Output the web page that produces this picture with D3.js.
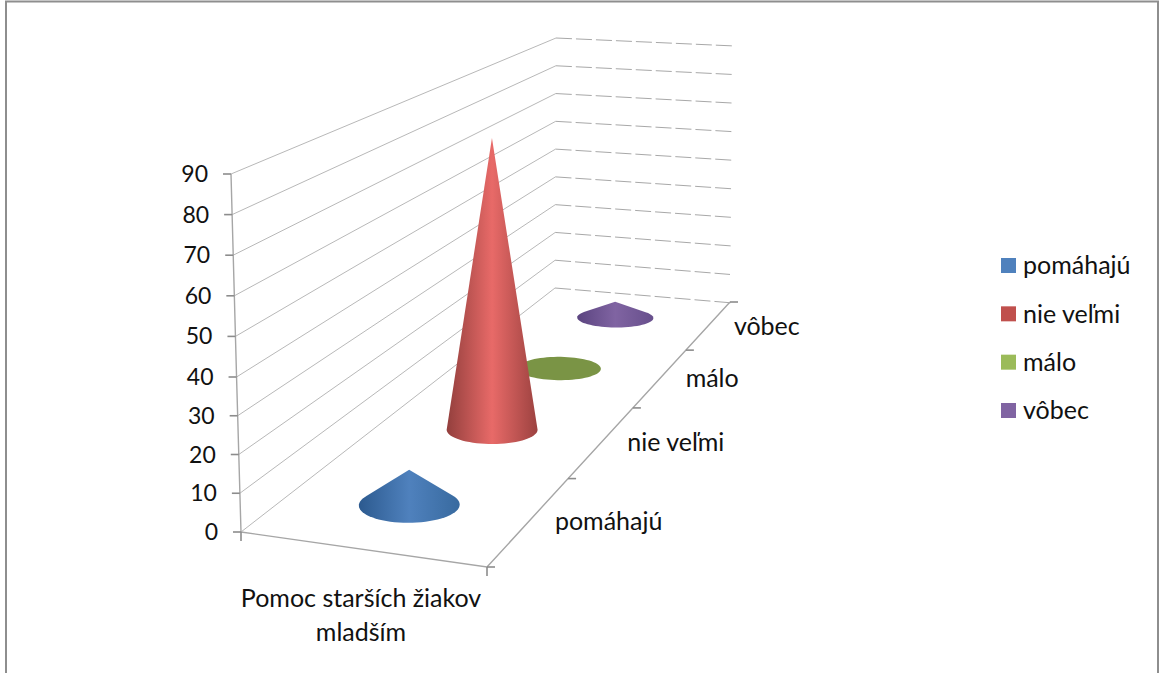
<!DOCTYPE html>
<html>
<head>
<meta charset="utf-8">
<style>
body { margin: 0; background: #fff; }
text { font-family: Lato, "Open Sans", sans-serif; font-size: 25px; fill: #111; }
text.num { font-size: 23px; }
.grid { fill: none; stroke: #b8b8b8; stroke-width: 1; }
.back { stroke: #a8a8a8; stroke-dasharray: 16 4; }
.axis { fill: none; stroke: #a6a6a6; stroke-width: 1.4; }
.tick { fill: none; stroke: #8c8c8c; stroke-width: 1.6; }
</style>
</head>
<body>
<svg width="1162" height="673"></svg>
<script src="https://d3js.org/d3.v7.min.js"></script>
<script>
var categories = ["pomáhajú", "nie veľmi", "málo", "vôbec"];
var values = [9, 84, 0, 5.5];
var valueTicks = d3.range(0, 100, 10);
var axisTitle = ["Pomoc starších žiakov", "mladším"];

var legendColors = ["#4f81bd", "#c0504d", "#9bbb59", "#8064a2"];
// edge, centre, edge of the cone shading
var shades = [
  ["#2c5a8f", "#4f81bd", "#386a9f"],
  ["#933f3d", "#e86a68", "#9c4240"],
  ["#7a9445", "#7a9445", "#7a9445"],
  ["#5b4480", "#8064a2", "#674f8c"]
];

var svg = d3.select("svg");

// floor corners on screen: front left, front right, back right, back left
var floor = [[241, 532], [487, 567], [730, 302], [553, 289]];

// unit square -> floor quad
var dx1 = floor[1][0] - floor[2][0], dx2 = floor[3][0] - floor[2][0],
    sx = floor[0][0] - floor[1][0] + floor[2][0] - floor[3][0],
    dy1 = floor[1][1] - floor[2][1], dy2 = floor[3][1] - floor[2][1],
    sy = floor[0][1] - floor[1][1] + floor[2][1] - floor[3][1],
    det = dx1 * dy2 - dx2 * dy1,
    pg = (sx * dy2 - dx2 * sy) / det,
    ph = (dx1 * sy - sx * dy1) / det;

function weight(u, v) { return 1 + pg * u + ph * v; }
function project(u, v) {
  var w = weight(u, v);
  return [
    ((floor[1][0] - floor[0][0] + pg * floor[1][0]) * u + (floor[3][0] - floor[0][0] + ph * floor[3][0]) * v + floor[0][0]) / w,
    ((floor[1][1] - floor[0][1] + pg * floor[1][1]) * u + (floor[3][1] - floor[0][1] + ph * floor[3][1]) * v + floor[0][1]) / w
  ];
}

// value axis along the three wall edges, the near edge has a bit of perspective
var yMax = d3.max(valueTicks);
var wallLeft = { x: d3.scaleLinear().domain([0, yMax]).range([241, 231]), y: d3.scaleLinear().domain([0, 40, yMax]).range([532, 377, 174]) };
var wallBack = { x: d3.scaleLinear().domain([0, yMax]).range([555, 556]), y: d3.scaleLinear().domain([0, yMax]).range([288, 38]) };
var wallRight = { x: d3.scaleLinear().domain([0, 10, yMax]).range([733, 730, 735]), y: d3.scaleLinear().domain([0, yMax]).range([303, 46]) };
var heightFront = (wallLeft.y(0) - wallLeft.y(yMax)) / yMax;

var depth = d3.scaleBand().domain(categories).range([0, 1]);

// frame (bottom edge is cut off in the picture)
svg.append("path").attr("d", "M6,673V1.5H1158V673")
  .attr("fill", "none").attr("stroke", "#8e8e8e").attr("stroke-width", 2);

// gridlines
var line = d3.line();
valueTicks.forEach(function(t) {
  svg.append("path").attr("class", "grid")
    .attr("d", line([[wallLeft.x(t), wallLeft.y(t)], [wallBack.x(t), wallBack.y(t)]]));
  svg.append("path").attr("class", "grid back")
    .attr("d", line([[wallBack.x(t), wallBack.y(t)], [wallRight.x(t), wallRight.y(t)]]));
});

// value axis
svg.append("path").attr("class", "axis")
  .attr("d", line(valueTicks.map(function(t) { return [wallLeft.x(t), wallLeft.y(t)]; })));
svg.selectAll(".vtick").data(valueTicks).enter().append("path").attr("class", "tick")
  .attr("d", function(t) { return line([[wallLeft.x(t) - 8, wallLeft.y(t)], [wallLeft.x(t), wallLeft.y(t)]]); });
svg.selectAll(".vlabel").data(valueTicks).enter().append("text")
  .attr("class", "num")
  .attr("x", function(t) { return wallLeft.x(t) - 23; })
  .attr("y", function(t) { return wallLeft.y(t); })
  .attr("dy", "0.35em").attr("text-anchor", "end")
  .text(function(t) { return t; });

// floor edges
svg.append("path").attr("class", "axis").attr("d", line([floor[0], floor[1], floor[2]]));
svg.append("path").attr("class", "tick").attr("d", line([floor[0], [floor[0][0], floor[0][1] + 9]]));
svg.append("path").attr("class", "tick").attr("d", line([floor[1], [floor[1][0], floor[1][1] + 9]]));

var depthEdges = categories.map(function(c) { return depth(c); }).concat([1]);
svg.selectAll(".dtick").data(depthEdges).enter().append("path").attr("class", "tick")
  .attr("d", function(v) { var p = project(1, v); return line([p, [p[0] + 8, p[1]]]); });

svg.selectAll(".clabel").data(categories).enter().append("text")
  .attr("x", function(c) { return project(1, depth(c) + depth.bandwidth() / 2)[0] + 25; })
  .attr("y", function(c) { return project(1, depth(c) + depth.bandwidth() / 2)[1] + 1; })
  .attr("dy", "0.35em")
  .text(function(c) { return c; });

svg.selectAll(".title").data(axisTitle).enter().append("text")
  .attr("x", 361).attr("y", function(d, i) { return 598 + i * 34; })
  .attr("dy", "0.35em").attr("text-anchor", "middle")
  .text(function(d) { return d; });

// cones, far ones first
var defs = svg.append("defs");
var radius = 0.05, floorAspect = 4;
d3.range(categories.length).reverse().forEach(function(i) {
  var v = depth(categories[i]) + depth.bandwidth() / 2;
  var w = weight(0.5, v);
  var base = project(0.5, v);
  var apex = [base[0], base[1] - values[i] * heightFront / w];
  var ring = d3.range(0, 72).map(function(k) {
    var a = k / 72 * 2 * Math.PI;
    return project(0.5 + radius * Math.cos(a) * floorAspect, v + radius * Math.sin(a));
  });
  var grad = defs.append("linearGradient").attr("id", "cone" + i);
  grad.selectAll("stop").data(shades[i]).enter().append("stop")
    .attr("offset", function(d, k) { return k / 2; })
    .attr("stop-color", function(d) { return d; });
  svg.append("path")
    .attr("d", "M" + d3.polygonHull(ring.concat([apex])).join("L") + "Z")
    .attr("fill", "url(#cone" + i + ")");
});

// legend
var legendY = d3.scalePoint().domain(categories).range([265.5, 410.5]);
var legend = svg.selectAll(".legend").data(categories).enter().append("g")
  .attr("transform", function(c) { return "translate(1001," + legendY(c) + ")"; });
legend.append("rect").attr("y", -7.5).attr("width", 15).attr("height", 15)
  .attr("fill", function(c, i) { return legendColors[i]; });
legend.append("text").attr("x", 22).attr("dy", "0.35em")
  .text(function(c) { return c; });
</script>
</body>
</html>
